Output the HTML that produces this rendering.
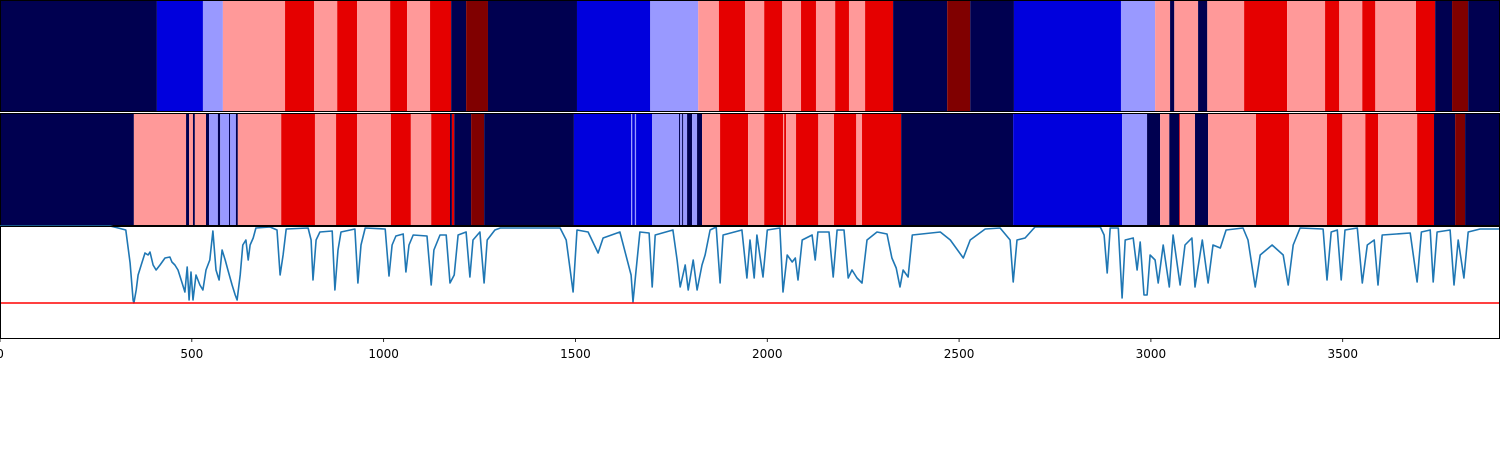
<!DOCTYPE html>
<html><head><meta charset="utf-8"><style>
html,body{margin:0;padding:0;background:#fff;}
svg{display:block;}
</style></head><body>
<svg id="chart" width="1500" height="450" xmlns="http://www.w3.org/2000/svg">
<g id="row1"></g>
<g id="row2"></g>
<g id="line"></g>
<g id="axis"></g>
</svg>
<script>
const X_MAX = 3910;
const palette = ['#000050', '#0000dd', '#9999ff', '#ff9999', '#e50000', '#800000'];
const row1Starts = [0,409,529,581,743,819,879,931,1017,1061,1121,1176,1215,1272,1504,1695,1820,1874,1942,1992,2039,2088,2127,2177,2213,2255,2328,2469,2529,2643,2922,3011,3050,3061,3123,3147,3243,3355,3454,3491,3551,3585,3691,3741,3785,3827];
const row1Class = [0,1,2,3,4,3,4,3,4,3,4,0,5,0,1,2,3,4,3,4,3,4,3,4,3,4,0,5,0,1,2,3,0,3,0,3,4,3,4,3,4,3,4,0,5,0];
const row2Starts = [0,349,485,493,503,508,537,545,568,574,597,600,615,620,733,821,876,931,1019,1071,1124,1173,1178,1184,1228,1262,1496,1645,1648,1655,1658,1700,1770,1773,1778,1781,1791,1804,1817,1830,1877,1950,1992,2041,2044,2049,2075,2133,2174,2232,2247,2349,2641,2925,2990,3024,3048,3074,3076,3115,3149,3274,3360,3459,3499,3559,3592,3694,3738,3793,3819];
const row2Class = [0,3,0,3,0,3,0,2,0,2,0,2,0,3,4,3,4,3,4,3,4,0,4,0,5,0,1,2,1,2,1,2,0,2,0,2,0,2,0,3,4,3,4,3,4,3,4,3,4,3,4,0,1,2,0,3,0,4,3,0,3,4,3,4,3,4,3,4,0,5,0];
const signalPoints = [
[0,112],[287,112],[308,110],[328,108],[339,75],[347,38],[349,35],[355,48],[360,63],[368,73],
[378,85],[386,83],[391,86],[399,73],[407,68],[417,73],[430,80],[443,81],[448,76],[456,73],
[464,68],[474,56],[482,46],[488,71],[493,38],[498,66],[503,38],[511,63],[521,53],[529,48],
[537,68],[547,78],[555,107],[563,68],[571,58],[579,88],[587,78],[594,68],[605,53],[613,43],
[618,38],[626,63],[633,93],[641,98],[647,78],[652,93],[660,100],[667,110],[704,111],[722,108],
[730,63],[738,83],[746,109],[803,110],[811,98],[816,58],[824,98],[834,106],[866,107],[873,48],
[881,88],[889,106],[925,109],[933,55],[941,93],[952,110],[1004,109],[1014,62],[1022,93],[1032,102],
[1051,104],[1058,66],[1066,93],[1077,103],[1113,102],[1124,53],[1131,88],[1147,103],[1163,103],[1173,55],
[1184,63],[1194,103],[1215,106],[1225,61],[1233,98],[1251,106],[1262,55],[1270,98],[1290,108],[1304,110],
[1460,110],[1476,98],[1494,46],[1504,108],[1533,106],[1559,85],[1572,100],[1616,106],[1645,63],[1650,36],
[1658,68],[1668,106],[1692,105],[1700,51],[1708,103],[1754,108],[1765,78],[1773,51],[1786,73],[1794,48],
[1807,78],[1817,48],[1830,73],[1838,83],[1851,108],[1867,111],[1877,55],[1885,103],[1934,108],[1947,60],
[1955,98],[1966,60],[1973,103],[1989,61],[2000,108],[2033,110],[2041,46],[2052,83],[2065,76],[2073,80],
[2080,58],[2091,98],[2117,103],[2125,78],[2132,106],[2161,106],[2172,61],[2182,108],[2200,108],[2211,60],
[2221,68],[2234,60],[2247,55],[2260,98],[2286,106],[2312,104],[2325,80],[2336,70],[2346,51],[2354,68],
[2367,61],[2378,103],[2451,106],[2477,98],[2511,80],[2529,98],[2568,109],[2607,110],[2633,98],[2641,56],
[2651,98],[2672,100],[2698,111],[2868,111],[2878,103],[2886,65],[2894,110],[2915,110],[2925,40],[2933,98],
[2954,100],[2964,68],[2972,96],[2982,43],[2990,43],[2998,83],[3011,78],[3019,55],[3032,93],[3048,51],
[3058,103],[3076,53],[3089,93],[3107,100],[3115,51],[3134,98],[3149,55],[3162,93],[3181,90],[3196,108],
[3240,110],[3253,98],[3272,51],[3285,83],[3316,93],[3345,83],[3358,53],[3371,93],[3389,110],[3449,109],
[3459,58],[3470,106],[3486,108],[3496,58],[3506,108],[3538,110],[3551,55],[3564,93],[3582,98],[3592,53],
[3603,103],[3676,105],[3694,56],[3705,106],[3728,108],[3736,56],[3746,106],[3780,108],[3790,53],[3801,98],
[3816,60],[3827,106],[3858,109],[3910,109]
];
const threshold = [35];
const tickValues = [0,500,1000,1500,2000,2500,3000,3500];
const tickLabels = ['0','500','1000','1500','2000','2500','3000','3500'];

const NS = 'http://www.w3.org/2000/svg';
const W = 1500;
function sx(v){ return v / X_MAX * W; }
const P3_TOP = 226, P3_BOT = 338, V_MAX = 112;
function sy(v){ return P3_BOT - v / V_MAX * (P3_BOT - P3_TOP); }
function mk(tag, attrs){ const e = document.createElementNS(NS, tag); for (const k in attrs) e.setAttribute(k, attrs[k]); return e; }

function drawRow(g, starts, cls, y0, y1, name){
  for (let i = 0; i < starts.length; i++){
    const a = sx(starts[i]);
    const b = sx(i + 1 < starts.length ? starts[i+1] : X_MAX);
    const r = mk('rect', {x: a, y: y0, width: Math.max(b - a, 0.8), height: y1 - y0, fill: palette[cls[i]]});
    
    
    g.appendChild(r);
  }
  const f = mk('rect', {x: 0.5, y: y0 + 0.5, width: W - 1, height: y1 - y0 - 1, fill: 'none', stroke: '#000', 'stroke-width': 1});
  
  
  g.appendChild(f);
}
drawRow(document.getElementById('row1'), row1Starts, row1Class, 0, 112, 'top-row');
drawRow(document.getElementById('row2'), row2Starts, row2Class, 113, 226, 'middle-row');

const lg = document.getElementById('line');
let d = '';
for (let i = 0; i < signalPoints.length; i++) d += (i ? 'L' : 'M') + sx(signalPoints[i][0]).toFixed(1) + ' ' + sy(signalPoints[i][1]).toFixed(1);
const path = mk('path', {d: d, fill: 'none', stroke: '#1f77b4', 'stroke-width': 1.6, 'stroke-linejoin': 'round'});


lg.appendChild(path);
const th = mk('line', {x1: 0, x2: W, y1: sy(threshold[0]), y2: sy(threshold[0]), stroke: '#ff0000', 'stroke-width': 1.6});


lg.appendChild(th);
const pf = mk('rect', {x: 0.5, y: P3_TOP + 0.5, width: W - 1, height: P3_BOT - P3_TOP, fill: 'none', stroke: '#000', 'stroke-width': 1});


lg.appendChild(pf);

const ax = document.getElementById('axis');
for (let i = 0; i < tickValues.length; i++){
  const x = sx(tickValues[i]);
  const t = mk('line', {x1: x, x2: x, y1: P3_BOT, y2: P3_BOT + 4, stroke: '#000', 'stroke-width': 0.8});
  
  
  ax.appendChild(t);
  const tx = mk('text', {x: x, y: P3_BOT + 20, 'text-anchor': 'middle', 'font-family': 'DejaVu Sans, Liberation Sans, sans-serif', 'font-size': 12, fill: '#000'});
  tx.textContent = tickLabels[i];
  
  
  ax.appendChild(tx);
}
</script>
</body></html>
